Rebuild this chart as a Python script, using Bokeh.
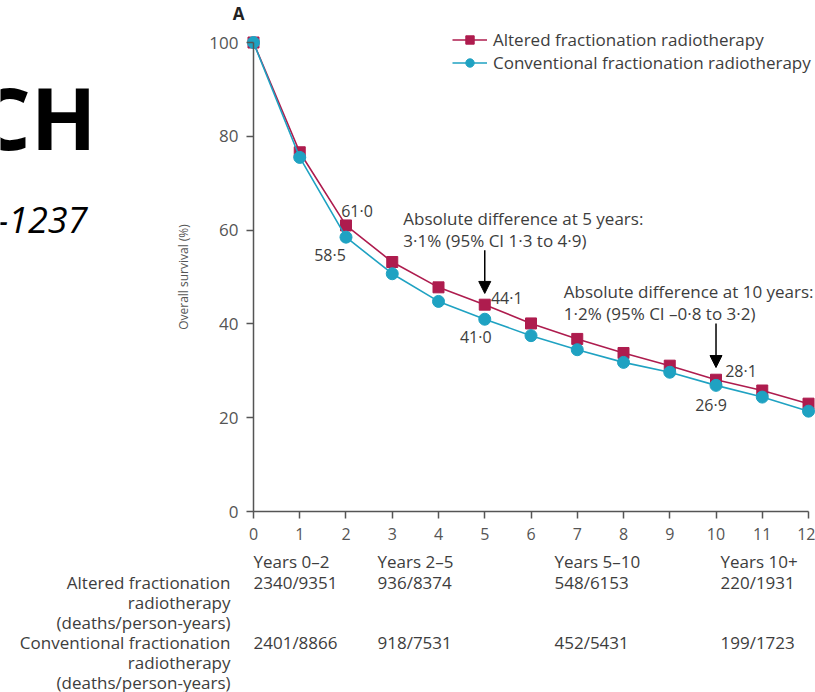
from bokeh.plotting import figure
from bokeh.models import Label, Arrow, NormalHead, Range1d, Legend, LegendItem, FixedTicker
from bokeh.embed import file_html
from bokeh.resources import INLINE

# ---------------- data ----------------
years = list(range(13))
altered = [100, 76.6, 61.0, 53.2, 47.8, 44.1, 40.1, 36.8, 33.8, 31.1, 28.1, 25.8, 23.0]
conventional = [100, 75.5, 58.5, 50.7, 44.8, 41.0, 37.5, 34.5, 31.8, 29.7, 26.9, 24.4, 21.4]
series_names = ["Altered fractionation radiotherapy", "Conventional fractionation radiotherapy"]
x_ticks = list(range(13))
y_ticks = [0, 20, 40, 60, 80, 100]
labelled_years = [2, 5, 10]
note_5y = ["Absolute difference at 5 years:", "3·1% (95% CI 1·3 to 4·9)"]
note_10y = ["Absolute difference at 10 years:", "1·2% (95% CI –0·8 to 3·2)"]
periods = ["Years 0–2", "Years 2–5", "Years 5–10", "Years 10+"]
altered_rates = ["2340/9351", "936/8374", "548/6153", "220/1931"]
conventional_rates = ["2401/8866", "918/7531", "452/5431", "199/1723"]
row_labels = [["Altered fractionation", "radiotherapy", "(deaths/person-years)"],
              ["Conventional fractionation", "radiotherapy", "(deaths/person-years)"]]
slide_title = "CH"
slide_pages = "-1237"
panel_letter = "A"

# ---------------- style ----------------
ALT = "#AE1C4E"
CONV = "#1FA2C2"
TXT = "#3d3d3d"
AX = "#555555"
FONT = "Open Sans"
W, H = 815, 692

# frame covers the whole canvas; axes are placed at x=0 / y=0
p = figure(width=W, height=H, x_range=Range1d(-5.470, 12.151), y_range=Range1d(-38.59, 108.96),
           min_border=0, output_backend="svg", toolbar_location=None)
p.outline_line_color = None
p.grid.visible = False
p.background_fill_color = "white"

for ax in (p.xaxis[0], p.yaxis[0]):
    ax.axis_line_color = AX
    ax.axis_line_width = 1.5
    ax.major_tick_line_color = AX
    ax.major_tick_line_width = 1.5
    ax.major_tick_out = 7
    ax.major_tick_in = 0
    ax.minor_tick_line_color = None
    ax.major_label_text_font = FONT
    ax.major_label_text_color = "#555555"
    ax.fixed_location = 0

p.xaxis.ticker = FixedTicker(ticks=x_ticks)
p.xaxis.bounds = (0, 12)
p.xaxis.major_label_standoff = 9
p.xaxis.major_label_text_font_size = "16px"
p.yaxis.ticker = FixedTicker(ticks=y_ticks)
p.yaxis.bounds = (0, 100)
p.yaxis.major_label_standoff = 8
p.yaxis.major_label_text_font_size = "17px"
p.yaxis.axis_label = "Overall survival (%)"
p.yaxis.axis_label_text_font = FONT
p.yaxis.axis_label_text_font_style = "normal"
p.yaxis.axis_label_text_font_size = "12px"
p.yaxis.axis_label_text_color = "#555555"
p.yaxis.axis_label_standoff = 14

# series
l1 = p.line(years, altered, line_color=ALT, line_width=1.6)
s1 = p.scatter(years, altered, marker="square", size=11, fill_color=ALT, line_color=ALT)
l2 = p.line(years, conventional, line_color=CONV, line_width=1.6)
s2 = p.scatter(years, conventional, marker="circle", size=12, fill_color=CONV, line_color=CONV)

legend = Legend(items=[LegendItem(label=series_names[0], renderers=[l1, s1]),
                       LegendItem(label=series_names[1], renderers=[l2, s2])],
                location=(452, H - 74), orientation="vertical",
                background_fill_alpha=0, border_line_color=None,
                padding=0, margin=0, spacing=0, glyph_width=35, glyph_height=21,
                label_height=21, label_standoff=6, label_text_font=FONT,
                label_text_font_size="17px", label_text_color=TXT)
p.add_layout(legend)

# value callouts (offsets in px)
alt_offsets = {2: (11, 14), 5: (22, 7), 10: (25, 9)}
conv_offsets = {2: (-16, -18), 5: (-9, -18), 10: (-5, -20)}
for yr in labelled_years:
    for series, offs in ((altered, alt_offsets), (conventional, conv_offsets)):
        v = series[yr]
        p.add_layout(Label(x=yr, y=v, text=f"{v:.1f}".replace(".", "·"),
                           x_offset=offs[yr][0], y_offset=offs[yr][1],
                           text_align="center", text_baseline="middle",
                           text_font=FONT, text_font_size="16px", text_color=TXT))

def note(lines, x, y_top):
    for i, t in enumerate(lines):
        p.add_layout(Label(x=x, y=y_top, y_offset=-22 * i, text=t, text_align="left",
                           text_baseline="middle", text_font=FONT, text_font_size="17px",
                           text_color=TXT))

note(note_5y, 3.24, 62.4)
note(note_10y, 6.71, 47.0)
p.add_layout(Arrow(end=NormalHead(size=12, fill_color="black", line_color="black"),
                   x_start=5, y_start=55.7, x_end=5, y_end=46.5,
                   line_color="black", line_width=1.5))
p.add_layout(Arrow(end=NormalHead(size=12, fill_color="black", line_color="black"),
                   x_start=10, y_start=40.1, x_end=10, y_end=30.7,
                   line_color="black", line_width=1.5))

# screen helpers (page pixel from top-left -> screen units)
def sx(rx):
    return rx

def sy(ry):
    return H - ry

def slabel(text, rx, ry, align="left", size="17px", style="normal", color=TXT, baseline="middle", font=FONT):
    p.add_layout(Label(x=sx(rx), y=sy(ry), x_units="screen", y_units="screen", text=text,
                       text_align=align, text_baseline=baseline, text_font=font,
                       text_font_size=size, text_font_style=style, text_color=color))

slabel(panel_letter, 238, 13, align="center", size="17px", style="bold", color="#222222")

slabel(slide_title, 96, 116, align="right", size="86px", style="bold", color="black")
slabel(slide_pages, 87, 219, align="right", size="36px", style="italic", color="black")

col_x = [253, 377, 554, 720]
for i, t in enumerate(periods):
    slabel(t, col_x[i], 561)
row_y = [[582, 602, 622], [642, 662, 682]]
for r, (labels, rates) in enumerate(zip(row_labels, [altered_rates, conventional_rates])):
    for j, t in enumerate(labels):
        slabel(t, 230, row_y[r][j], align="right")
    for i, t in enumerate(rates):
        slabel(t, col_x[i], row_y[r][0])

open("out.html", "w").write(file_html(p, INLINE))
